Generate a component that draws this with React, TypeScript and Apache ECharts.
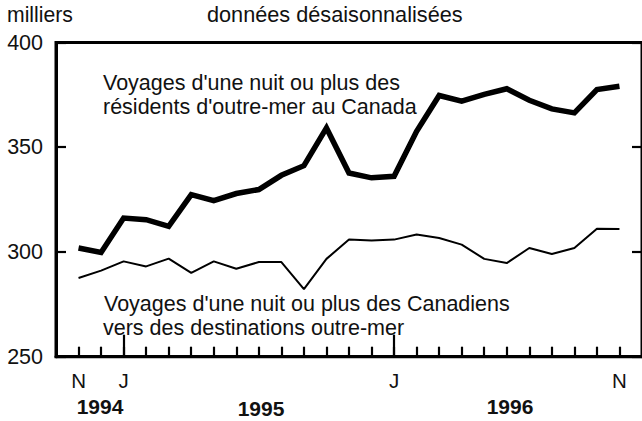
import React, { useEffect, useRef } from 'react';
import * as echarts from 'echarts';

// Monthly points, Nov 1994 .. Nov 1996
const monthLetters = ['N', 'D', 'J', 'F', 'M', 'A', 'M', 'J', 'J', 'A', 'S', 'O', 'N', 'D', 'J', 'F', 'M', 'A', 'M', 'J', 'J', 'A', 'S', 'O', 'N'];
const labelledMonths = [0, 2, 14, 24];
const januaryMonths = [2, 14];
const years = ['1994', '1995', '1996'];

// Voyages d'une nuit ou plus des résidents d'outre-mer au Canada (milliers)
const overseasResidents = [301.9, 299.8, 316.2, 315.4, 312.2, 327.4, 324.5, 327.9, 329.8, 336.6, 341.2, 359.2, 337.7, 335.4, 336.1, 357.6, 374.7, 372.0, 375.2, 377.9, 372.4, 368.3, 366.4, 377.5, 379.1];
// Voyages d'une nuit ou plus des Canadiens vers des destinations outre-mer (milliers)
const canadians = [287.6, 291.1, 295.5, 293.1, 296.8, 290.0, 295.5, 292.0, 295.2, 295.2, 282.3, 296.7, 305.9, 305.5, 305.9, 308.3, 306.7, 303.5, 296.7, 294.7, 301.9, 299.0, 301.9, 311.1, 311.0];

const yMin = 250;
const yMax = 400;
const yStep = 50;

const FONT = '"Liberation Sans", Arial, Helvetica, sans-serif';
const INK = '#111';

export default function App() {
  const ref = useRef<HTMLDivElement>(null);

  useEffect(() => {
    if (!ref.current) return;
    const chart = echarts.init(ref.current, undefined, { renderer: 'svg' });
    const allMonths = monthLetters.map((_, i) => i);

    const txt = (text: string, x: number, y: number, size: number, opts: any = {}) => ({
      type: 'text',
      x,
      y,
      silent: true,
      style: {
        text,
        fill: INK,
        fontFamily: FONT,
        fontSize: size,
        fontWeight: opts.bold ? 'bold' : 'normal',
        align: opts.align || 'left',
        verticalAlign: 'middle',
      },
    });

    chart.setOption({
      animation: false,
      backgroundColor: '#fff',
      grid: {
        left: 56,
        top: 42.5,
        width: 587.5,
        height: 314.2,
        show: true,
        borderColor: '#000',
        borderWidth: 3,
        backgroundColor: 'transparent',
      },
      xAxis: [
        {
          type: 'value',
          position: 'bottom',
          min: -1,
          max: 25,
          interval: 1,
          axisLine: { show: true, onZero: false, lineStyle: { color: '#000', width: 3 } },
          axisTick: {
            show: true,
            inside: true,
            length: 10,
            customValues: allMonths,
            lineStyle: { color: '#000', width: 2.2 },
          },
          axisLabel: {
            show: true,
            customValues: labelledMonths,
            formatter: (v: number) => monthLetters[Math.round(v)] ?? '',
            color: INK,
            fontFamily: FONT,
            fontSize: 20.5,
            margin: 13.5,
          },
          splitLine: { show: false },
        },
        {
          type: 'value',
          position: 'bottom',
          min: -1,
          max: 25,
          axisLine: { show: false, onZero: false },
          axisTick: {
            show: true,
            inside: true,
            length: 22,
            customValues: januaryMonths,
            lineStyle: { color: '#000', width: 2.2 },
          },
          axisLabel: { show: false },
          splitLine: { show: false },
        },
      ],
      yAxis: [
        {
          type: 'value',
          position: 'left',
          min: yMin,
          max: yMax,
          interval: yStep,
          axisLine: { show: true, onZero: false, lineStyle: { color: '#000', width: 3 } },
          axisTick: { show: true, inside: true, length: 10, lineStyle: { color: '#000', width: 2.2 } },
          axisLabel: { color: INK, fontFamily: FONT, fontSize: 21.5, margin: 13 },
          splitLine: { show: false },
        },
        {
          type: 'value',
          position: 'right',
          min: yMin,
          max: yMax,
          interval: yStep,
          axisLine: { show: true, onZero: false, lineStyle: { color: '#000', width: 3 } },
          axisTick: { show: true, inside: true, length: 10, lineStyle: { color: '#000', width: 2.2 } },
          axisLabel: { show: false },
          splitLine: { show: false },
        },
      ],
      series: [
        {
          type: 'line',
          name: 'Voyages d\'une nuit ou plus des résidents d\'outre-mer au Canada',
          data: overseasResidents.map((v, i) => [i, v]),
          showSymbol: false,
          symbol: 'none',
          lineStyle: { color: '#000', width: 5.5, join: 'miter' },
          z: 5,
        },
        {
          type: 'line',
          name: 'Voyages d\'une nuit ou plus des Canadiens vers des destinations outre-mer',
          data: canadians.map((v, i) => [i, v]),
          showSymbol: false,
          symbol: 'none',
          lineStyle: { color: '#000', width: 2 },
          z: 5,
        },
      ],
      graphic: [
        txt('milliers', 7, 14.5, 21.2),
        txt('données désaisonnalisées', 207, 14.5, 21.7),
        txt('Voyages d\'une nuit ou plus des', 103, 83.3, 21.5),
        txt('résidents d\'outre-mer au Canada', 103, 106.9, 21.5),
        txt('Voyages d\'une nuit ou plus des Canadiens', 104, 304.3, 21.5),
        txt('vers des destinations outre-mer', 103, 327.6, 21.5),
        txt(years[0], 100, 406.7, 21, { bold: true, align: 'center' }),
        txt(years[1], 261, 408.7, 21, { bold: true, align: 'center' }),
        txt(years[2], 510, 406.7, 21, { bold: true, align: 'center' }),
      ],
    });

    return () => chart.dispose();
  }, []);

  return (
    <div
      ref={ref}
      style={{ position: 'fixed', left: 0, top: 0, width: 642, height: 421, background: '#fff' }}
    />
  );
}
